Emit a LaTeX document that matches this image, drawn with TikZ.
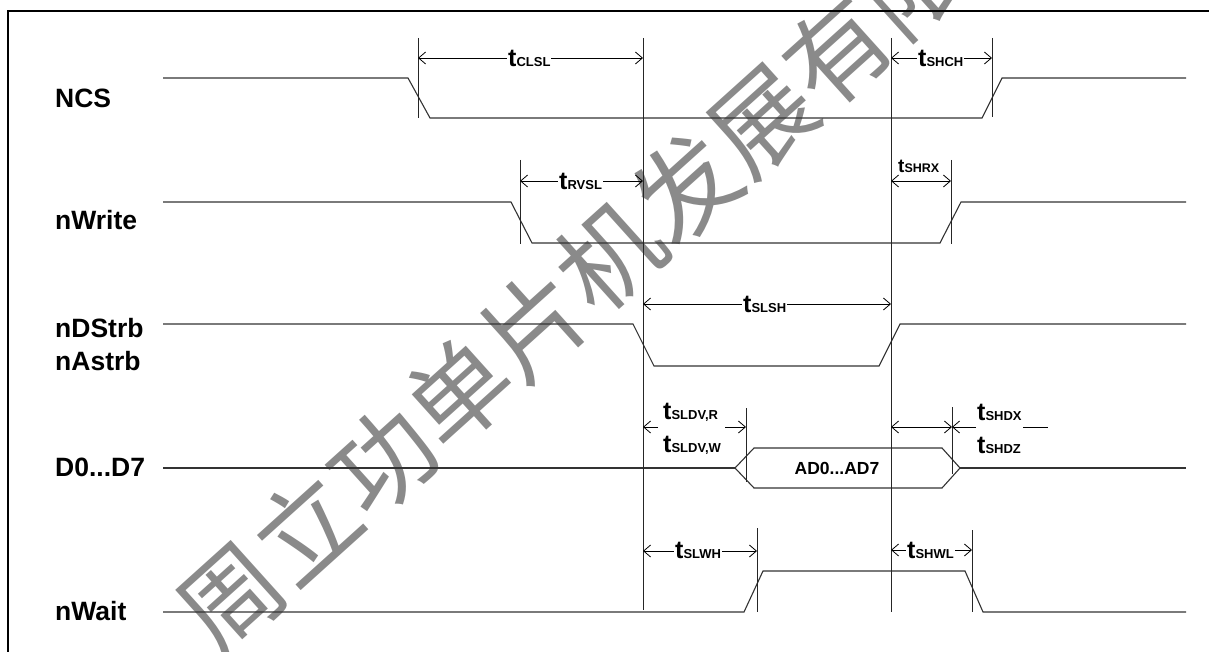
\documentclass[tikz,border=0pt]{standalone}
\usepackage{fontspec}
\setmainfont{Liberation Sans}
\newfontfamily\cjkwm{Noto Sans CJK SC}
\usetikzlibrary{arrows.meta}
\newcommand\tlab[3][25]{{\fontsize{#1}{#1}\selectfont\bfseries t}{\fontsize{#3}{#3}\selectfont\bfseries #2}}
\tikzset{
  sig/.style={line width=1.1pt, draw=black!80, line join=miter},
  vln/.style={line width=1pt, draw=black!85},
  barb/.tip={Straight Barb[length=7pt,width=12pt,line width=0.8pt]},
  dim/.style={line width=0.8pt, draw=black, barb-barb},
  ldim/.style={line width=0.8pt, draw=black, -barb},
  siglab/.style={anchor=base west, inner sep=0pt, font=\bfseries\fontsize{26.5}{26.5}\selectfont},
  tl/.style={anchor=base west, inner xsep=1pt, inner ysep=0pt, fill=white},
  tlnf/.style={anchor=base west, inner xsep=1pt, inner ysep=0pt},
  wm/.style={text=black!46, font=\cjkwm\fontsize{102}{102}\selectfont, inner sep=0pt}
}
\begin{document}
\begin{tikzpicture}[x=1pt,y=-1pt]
\useasboundingbox (0,0) rectangle (1209,652);
% watermark
\begin{scope}
\clip (0,0) rectangle (1209,652);
\node[wm, rotate=42] (wmark) at (572,290) {周立功单片机发展有限};
\end{scope}
% frame
\draw[line width=1.5pt] (8,652) -- (8,11) -- (1209,11);
% signal names
\node[siglab] (lncs) at (55,108) {NCS};
\node[siglab] (lnw) at (55,230) {nWrite};
\node[siglab] (lnds) at (55,337) {nDStrb};
\node[siglab] (lnas) at (55,370) {nAstrb};
\node[siglab] (ld) at (55,476) {D0...D7};
\node[siglab] (lwait) at (55,620) {nWait};
% signals
\draw[sig] (163,78)--(408,78)--(430,118)--(982,118)--(1002,78)--(1186,78);
\draw[sig] (163,202)--(511,202)--(532,243)--(940,243)--(961,202)--(1186,202);
\draw[sig] (163,324)--(633,324)--(654,366)--(879,366)--(900,324)--(1186,324);
\draw[sig] (163,468)--(735,468);
\draw[sig] (735,468)--(754,448)--(942,448)--(960,468)--(942,488)--(754,488)--cycle;
\draw[sig] (960,468)--(1186,468);
\draw[sig] (163,612)--(744,612)--(763,571)--(965,571)--(983,612)--(1186,612);
\node[inner sep=0pt, font=\bfseries\fontsize{17.5}{17.5}\selectfont] (bus) at (837,468) {AD0...AD7};
% vertical reference lines
\coordinate (a1) at (418,38); \coordinate (a2) at (418,118);
\coordinate (b1) at (643,38); \coordinate (b2) at (643,610);
\coordinate (c1) at (891,38); \coordinate (c2) at (891,612);
\coordinate (d1) at (992,38); \coordinate (d2) at (992,117);
\coordinate (e1) at (520,160); \coordinate (e2) at (520,244);
\coordinate (f1) at (951,160); \coordinate (f2) at (951,244);
\coordinate (g1) at (746,408); \coordinate (g2) at (746,482);
\coordinate (h1) at (952,407); \coordinate (h2) at (952,474);
\coordinate (i1) at (757,528); \coordinate (i2) at (757,612);
\coordinate (j1) at (972,530); \coordinate (j2) at (972,612);
\foreach \p in {a,b,c,d,e,f,g,h,i,j} \draw[vln] (\p1) -- (\p2);
% dimension arrows
\coordinate (clL) at (418,58); \coordinate (clR) at (643,58);
\draw[dim] (clL) -- (clR);
\node[tl] (tclsl) at (507,67) {\tlab{CLSL}{13}};
\coordinate (shL) at (891,58); \coordinate (shR) at (992,58);
\draw[dim] (shL) -- (shR);
\node[tl] (tshch) at (917,67) {\tlab{SHCH}{13}};
\coordinate (rvL) at (520,181); \coordinate (rvR) at (643,181);
\draw[dim] (rvL) -- (rvR);
\node[tl] (trvsl) at (558,190) {\tlab{RVSL}{13}};
\coordinate (srL) at (891,181); \coordinate (srR) at (951,181);
\draw[dim] (srL) -- (srR);
\node[tlnf] (tshrx) at (897,173) {\tlab[19]{SHRX}{12.5}};
\coordinate (slL) at (643,304); \coordinate (slR) at (891,304);
\draw[dim] (slL) -- (slR);
\node[tl] (tslsh) at (742,312) {\tlab{SLSH}{13}};
\coordinate (dvL) at (643,427); \coordinate (dvR) at (746,427);
\coordinate (dvLm) at (658,427); \coordinate (dvRm) at (725,427);
\draw[ldim] (dvLm) -- (dvL);
\draw[ldim] (dvRm) -- (dvR);
\node[tlnf] (tsldvr) at (662,419) {\tlab{SLDV,R}{13}};
\node[tlnf] (tsldvw) at (662,452) {\tlab{SLDV,W}{13}};
\coordinate (hdL) at (891,427); \coordinate (hdR) at (952,427);
\coordinate (hdRm) at (976,427);
\draw[dim] (hdL) -- (hdR);
\draw[ldim] (hdRm) -- (hdR);
\coordinate (hx1) at (1023,427); \coordinate (hx2) at (1048,427);
\draw[line width=0.8pt] (hx1) -- (hx2);
\node[tlnf] (tshdx) at (976,420) {\tlab{SHDX}{13}};
\node[tlnf] (tshdz) at (976,453) {\tlab{SHDZ}{13}};
\coordinate (wlL) at (643,551); \coordinate (wlR) at (757,551);
\draw[dim] (wlL) -- (wlR);
\node[tl] (tslwh) at (674,558) {\tlab{SLWH}{13}};
\coordinate (whL) at (891,550); \coordinate (whR) at (972,550);
\draw[dim] (whL) -- (whR);
\node[tl] (tshwl) at (906,558) {\tlab{SHWL}{13}};
\end{tikzpicture}
\end{document}
